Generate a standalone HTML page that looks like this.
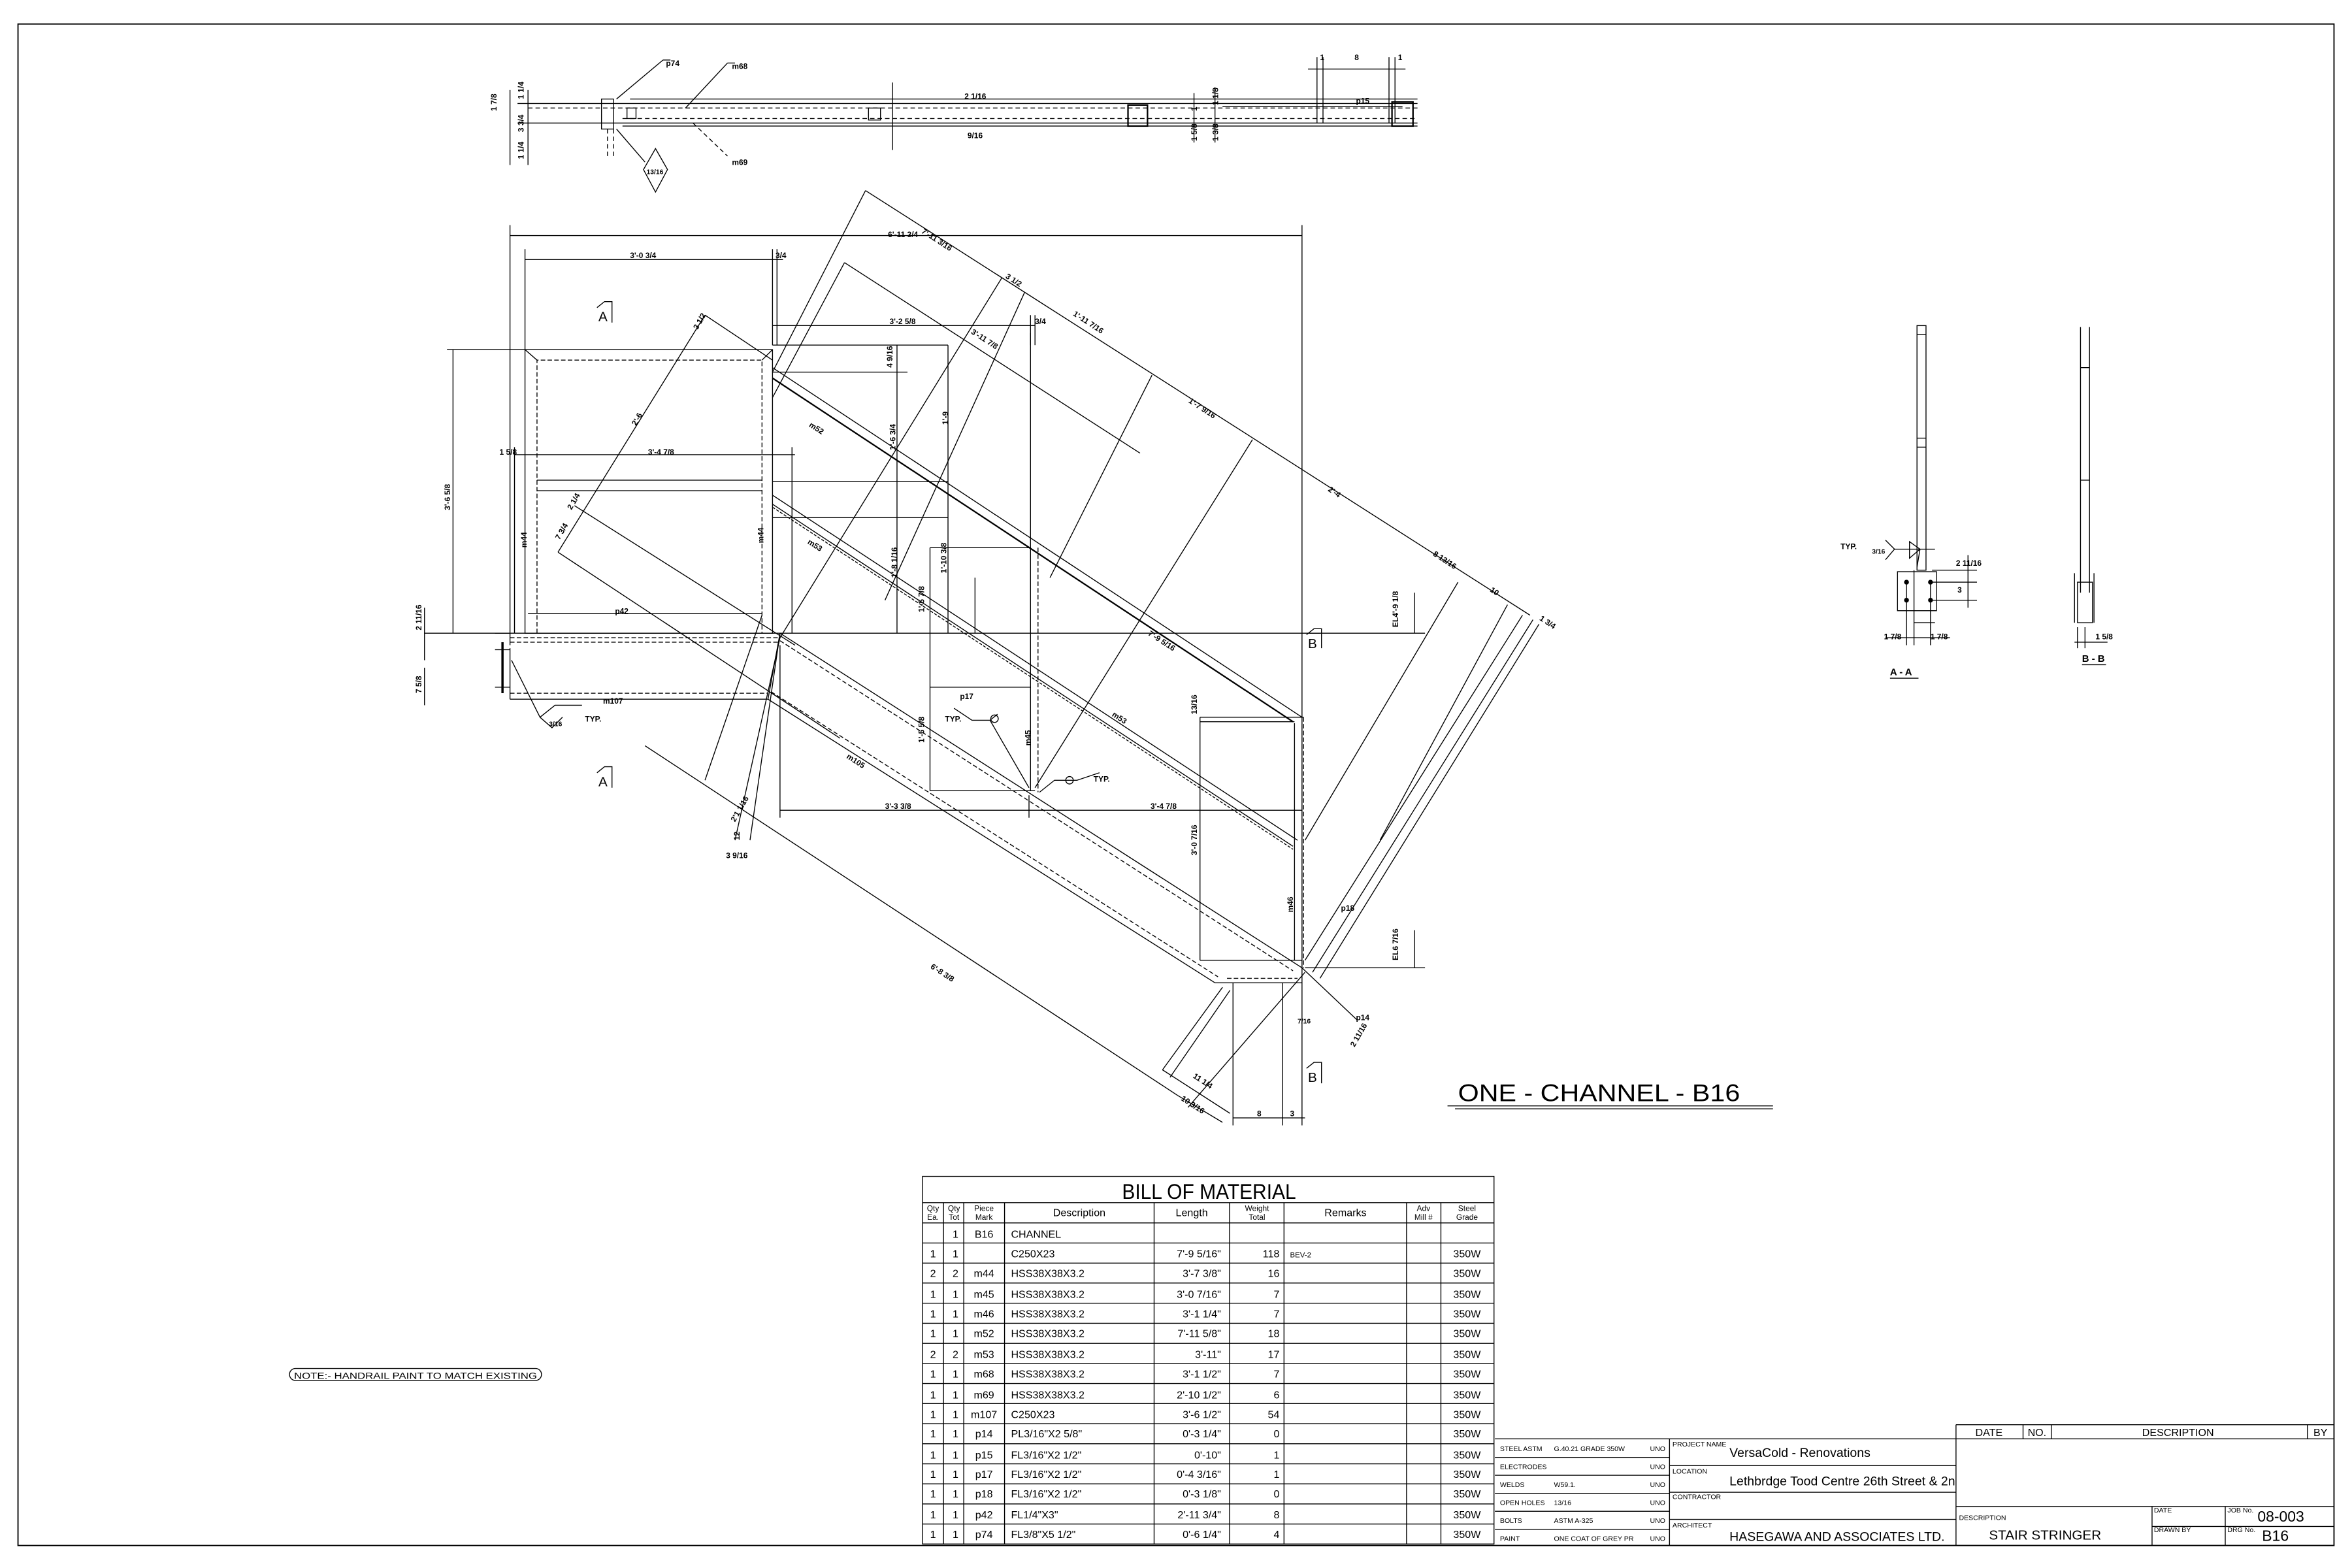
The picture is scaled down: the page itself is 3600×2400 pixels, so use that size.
<!DOCTYPE html>
<html><head><meta charset="utf-8"><style>
html,body{margin:0;padding:0;background:#fff;}
svg{display:block;}
text{font-family:"Liberation Sans Narrow","Liberation Sans",sans-serif;fill:#000;}
.lb text{font-weight:bold;}
</style></head><body>
<svg width="3600" height="2400" viewBox="0 0 1568 1045" preserveAspectRatio="none" xmlns="http://www.w3.org/2000/svg">
<rect width="1568" height="1045" fill="#fff"/>
<g fill="none" stroke="#000" stroke-width="0.6">
<rect x="12" y="16" width="1544" height="1014" stroke-width="0.8"/>

<!-- TOP PLAN VIEW -->
<line x1="420" y1="66" x2="945" y2="66"/>
<line x1="352" y1="69" x2="945" y2="69"/>
<line x1="352" y1="72" x2="945" y2="72" stroke-dasharray="3,2"/>
<line x1="415" y1="79" x2="945" y2="79" stroke-dasharray="3,2"/>
<line x1="352" y1="82" x2="945" y2="82"/>
<line x1="415" y1="84" x2="945" y2="84"/>
<rect x="401" y="66" width="8" height="20"/>
<rect x="418" y="72" width="6" height="7"/>
<rect x="579" y="72" width="8" height="8"/>
<rect x="752" y="70" width="13" height="14" stroke-width="1"/>
<rect x="928" y="68" width="14" height="16" stroke-width="1"/>
<line x1="352" y1="60" x2="352" y2="110"/>
<line x1="345" y1="69" x2="352" y2="69"/><line x1="345" y1="82" x2="352" y2="82"/>
<line x1="340" y1="60" x2="340" y2="110"/>
<line x1="405" y1="86" x2="405" y2="106" stroke-dasharray="3,2"/>
<line x1="409" y1="86" x2="409" y2="106" stroke-dasharray="3,2"/>
<line x1="411" y1="66" x2="442" y2="40"/><line x1="442" y1="40" x2="447" y2="40"/>
<line x1="457" y1="72" x2="485" y2="42"/><line x1="485" y1="42" x2="490" y2="42"/>
<line x1="462" y1="82" x2="485" y2="104" stroke-dasharray="3,2"/>
<path d="M437 99 L445 113 L437 128 L429 113 Z"/>
<line x1="411" y1="86" x2="430" y2="108"/>
<line x1="595" y1="55" x2="595" y2="100"/>
<line x1="796" y1="62" x2="796" y2="95"/><line x1="810" y1="58" x2="810" y2="95"/>
<line x1="878" y1="38" x2="878" y2="82"/><line x1="882" y1="38" x2="882" y2="82"/>
<line x1="926" y1="38" x2="926" y2="82"/><line x1="930" y1="38" x2="930" y2="82"/>
<line x1="872" y1="46" x2="937" y2="46"/>
<line x1="815" y1="71" x2="935" y2="71"/>

<!-- MAIN ELEVATION -->
<line x1="340" y1="157" x2="868" y2="157"/>
<line x1="340" y1="150" x2="340" y2="430"/>
<line x1="868" y1="150" x2="868" y2="750"/>
<line x1="350" y1="173" x2="522" y2="173"/>
<line x1="350" y1="166" x2="350" y2="233"/>
<line x1="515" y1="166" x2="515" y2="230"/>
<line x1="518" y1="166" x2="518" y2="230"/>
<line x1="515" y1="217" x2="690" y2="217"/>
<line x1="687" y1="210" x2="687" y2="230"/><line x1="690" y1="210" x2="690" y2="230"/>
<line x1="302" y1="233" x2="302" y2="422"/>
<line x1="298" y1="233" x2="350" y2="233"/>
<line x1="283" y1="422" x2="340" y2="422"/>
<line x1="283" y1="405" x2="283" y2="440"/>
<line x1="283" y1="445" x2="283" y2="470"/>
<line x1="343" y1="303" x2="530" y2="303"/>
<line x1="343" y1="298" x2="343" y2="422"/>
<line x1="528" y1="298" x2="528" y2="422"/>
<rect x="350" y="233" width="165" height="189"/>
<polyline points="358,422 358,240 508,240 508,422" stroke-dasharray="3,1.5"/>
<line x1="350" y1="233" x2="358" y2="240"/><line x1="515" y1="233" x2="508" y2="240"/>
<line x1="358" y1="320" x2="508" y2="320"/>
<line x1="358" y1="327" x2="508" y2="327"/>
<line x1="352" y1="409" x2="508" y2="409"/>
<line x1="330" y1="422" x2="880" y2="422"/>
<line x1="340" y1="425" x2="520" y2="425" stroke-dasharray="3,1.5"/>
<line x1="340" y1="428" x2="520" y2="428" stroke-dasharray="3,1.5"/>
<line x1="340" y1="432" x2="340" y2="466"/>
<line x1="340" y1="462" x2="512" y2="462" stroke-dasharray="3,1.5"/>
<line x1="340" y1="466" x2="512" y2="466"/>
<line x1="330" y1="433" x2="340" y2="433"/><line x1="330" y1="458" x2="340" y2="458"/>
<line x1="335" y1="428" x2="335" y2="462" stroke-width="1.5"/>
<line x1="341" y1="440" x2="360" y2="478"/>
<line x1="520" y1="422" x2="868" y2="645"/>
<line x1="520" y1="427" x2="862" y2="647" stroke-dasharray="3,1.5"/>
<line x1="512" y1="466" x2="810" y2="655"/>
<line x1="514" y1="461" x2="812" y2="651" stroke-dasharray="3,1.5"/>
<line x1="810" y1="655" x2="868" y2="655"/>
<line x1="818" y1="652" x2="865" y2="652" stroke-dasharray="3,1.5"/>
<line x1="520" y1="422" x2="500" y2="560"/>
<line x1="520" y1="422" x2="512" y2="466"/>
<line x1="515" y1="245" x2="868" y2="478"/>
<line x1="515" y1="252" x2="862" y2="481" stroke-width="1"/>
<line x1="515" y1="330" x2="865" y2="560"/>
<line x1="515" y1="336" x2="862" y2="564"/>
<line x1="515" y1="338" x2="862" y2="566" stroke-dasharray="2,1"/>
<line x1="687" y1="222" x2="687" y2="527"/>
<line x1="692" y1="365" x2="692" y2="528" stroke-dasharray="3,1.5"/>
<line x1="863" y1="482" x2="863" y2="640"/>
<line x1="869" y1="478" x2="869" y2="645" stroke-dasharray="3,1.5"/>
<line x1="800" y1="478" x2="869" y2="478"/>
<line x1="800" y1="481" x2="863" y2="481"/>
<line x1="800" y1="640" x2="868" y2="640"/>
<line x1="515" y1="248" x2="605" y2="248"/>
<line x1="598" y1="230" x2="598" y2="422"/>
<line x1="632" y1="230" x2="632" y2="422"/>
<line x1="515" y1="230" x2="632" y2="230"/>
<line x1="515" y1="345" x2="632" y2="345"/>
<line x1="515" y1="321" x2="632" y2="321"/>
<line x1="620" y1="365" x2="687" y2="365"/>
<line x1="620" y1="365" x2="620" y2="527"/>
<line x1="620" y1="527" x2="690" y2="527"/>
<line x1="650" y1="385" x2="650" y2="422"/>
<line x1="620" y1="458" x2="687" y2="458"/>
<line x1="800" y1="478" x2="800" y2="640"/>
<line x1="520" y1="540" x2="868" y2="540"/>
<line x1="520" y1="430" x2="520" y2="545"/>
<line x1="686" y1="530" x2="686" y2="545"/>
<line x1="822" y1="655" x2="822" y2="750"/>
<line x1="855" y1="655" x2="855" y2="750"/>
<line x1="822" y1="745" x2="870" y2="745"/>
<line x1="873" y1="422" x2="950" y2="422"/>
<line x1="943" y1="395" x2="943" y2="422"/>
<line x1="870" y1="645" x2="950" y2="645"/>
<line x1="943" y1="620" x2="943" y2="645"/>
<line x1="577" y1="127" x2="1020" y2="410"/>
<line x1="563" y1="175" x2="760" y2="302"/>
<line x1="470" y1="210" x2="515" y2="240"/>
<line x1="577" y1="127" x2="515" y2="248"/>
<line x1="563" y1="175" x2="515" y2="265"/>
<line x1="668" y1="185" x2="520" y2="425"/>
<line x1="683" y1="195" x2="590" y2="400"/>
<line x1="768" y1="250" x2="700" y2="385"/>
<line x1="835" y1="293" x2="690" y2="525"/>
<line x1="972" y1="388" x2="870" y2="560"/>
<line x1="1005" y1="403" x2="920" y2="560"/>
<line x1="1015" y1="410" x2="870" y2="640"/>
<line x1="1022" y1="413" x2="875" y2="648"/>
<line x1="1026" y1="416" x2="880" y2="652"/>
<line x1="870" y1="648" x2="792" y2="738"/>
<line x1="815" y1="658" x2="775" y2="713"/>
<line x1="820" y1="660" x2="780" y2="718"/>
<line x1="470" y1="210" x2="372" y2="368"/>
<line x1="372" y1="368" x2="560" y2="492"/>
<line x1="383" y1="337" x2="530" y2="430"/>
<line x1="430" y1="497" x2="785" y2="730"/>
<line x1="520" y1="425" x2="490" y2="560"/>
<line x1="508" y1="410" x2="470" y2="520"/>
<line x1="775" y1="713" x2="820" y2="742"/>
<line x1="785" y1="730" x2="815" y2="748"/>
<line x1="868" y1="645" x2="905" y2="680"/>
<polyline points="636,472 648,480 660,480 665,476"/>
<line x1="660" y1="480" x2="686" y2="525"/>
<circle cx="663" cy="479" r="2.5"/>
<polyline points="733,515 718,520 703,520 693,528"/>
<circle cx="713" cy="520" r="2.5"/>
<polyline points="360,478 370,470 388,470"/>
<path d="M360 478 L368 485 L375 478"/>
<polyline points="398,205 403,201 408,201 408,215"/>
<polyline points="398,515 403,511 408,511 408,525"/>
<polyline points="871,423 876,419 881,419 881,432"/>
<polyline points="871,712 876,708 881,708 881,722"/>
<line x1="965" y1="737" x2="1182" y2="737"/>
<line x1="970" y1="739" x2="1182" y2="739"/>
<rect x="193" y="912" width="168" height="8" rx="4"/>

<!-- SECTION A-A -->
<rect x="1278" y="217" width="6" height="163"/>
<line x1="1278" y1="223" x2="1284" y2="223"/>
<line x1="1278" y1="292" x2="1284" y2="292"/><line x1="1278" y1="298" x2="1284" y2="298"/>
<rect x="1265" y="381" width="26" height="26"/>
<polyline points="1276,380 1276,415 1290,415"/>
<line x1="1288" y1="380" x2="1318" y2="380"/>
<line x1="1288" y1="388" x2="1318" y2="388"/>
<line x1="1288" y1="400" x2="1318" y2="400"/>
<line x1="1312" y1="370" x2="1312" y2="405"/>
<line x1="1271" y1="388" x2="1271" y2="430"/>
<line x1="1276" y1="415" x2="1276" y2="430"/>
<line x1="1287" y1="388" x2="1287" y2="430"/>
<line x1="1257" y1="425" x2="1300" y2="425"/>
<polyline points="1257,360 1263,366 1257,373"/>
<line x1="1263" y1="366" x2="1290" y2="366"/>
<path d="M1273 361 L1280 366 L1273 372 Z"/>
<line x1="1280" y1="366" x2="1278" y2="378"/>
<line x1="1260" y1="452" x2="1279" y2="452"/>
<!-- SECTION B-B -->
<line x1="1387" y1="218" x2="1387" y2="395"/>
<line x1="1393" y1="218" x2="1393" y2="395"/>
<line x1="1387" y1="245" x2="1393" y2="245"/>
<line x1="1387" y1="320" x2="1393" y2="320"/>
<rect x="1385" y="388" width="10" height="27"/>
<line x1="1383" y1="382" x2="1383" y2="415"/>
<line x1="1396" y1="382" x2="1396" y2="415"/>
<line x1="1385" y1="418" x2="1385" y2="432"/><line x1="1390" y1="418" x2="1390" y2="432"/>
<line x1="1383" y1="428" x2="1405" y2="428"/>
<line x1="1388" y1="443" x2="1404" y2="443"/>

<!-- BOM -->
<rect x="615" y="784" width="381" height="245"/>
<line x1="615" y1="801.5" x2="996" y2="801.5"/>
<line x1="615" y1="815" x2="996" y2="815"/>
<line x1="629" y1="801.5" x2="629" y2="1029"/>
<line x1="642.5" y1="801.5" x2="642.5" y2="1029"/>
<line x1="669.7" y1="801.5" x2="669.7" y2="1029"/>
<line x1="769.4" y1="801.5" x2="769.4" y2="1029"/>
<line x1="819.7" y1="801.5" x2="819.7" y2="1029"/>
<line x1="856" y1="801.5" x2="856" y2="1029"/>
<line x1="937.7" y1="801.5" x2="937.7" y2="1029"/>
<line x1="960.6" y1="801.5" x2="960.6" y2="1029"/>
<line x1="615" y1="828.4" x2="996" y2="828.4"/>
<line x1="615" y1="841.8" x2="996" y2="841.8"/>
<line x1="615" y1="855.1" x2="996" y2="855.1"/>
<line x1="615" y1="868.5" x2="996" y2="868.5"/>
<line x1="615" y1="881.9" x2="996" y2="881.9"/>
<line x1="615" y1="895.3" x2="996" y2="895.3"/>
<line x1="615" y1="908.7" x2="996" y2="908.7"/>
<line x1="615" y1="922" x2="996" y2="922"/>
<line x1="615" y1="935.4" x2="996" y2="935.4"/>
<line x1="615" y1="948.8" x2="996" y2="948.8"/>
<line x1="615" y1="962.2" x2="996" y2="962.2"/>
<line x1="615" y1="975.6" x2="996" y2="975.6"/>
<line x1="615" y1="988.9" x2="996" y2="988.9"/>
<line x1="615" y1="1002.3" x2="996" y2="1002.3"/>
<line x1="615" y1="1015.7" x2="996" y2="1015.7"/>

<!-- TITLE BLOCK -->
<line x1="1304" y1="949.5" x2="1556" y2="949.5"/>
<line x1="996.6" y1="958.9" x2="1556" y2="958.9"/>
<line x1="996.6" y1="1030" x2="1556" y2="1030"/>
<line x1="1113" y1="958.9" x2="1113" y2="1030"/>
<line x1="1304" y1="949.5" x2="1304" y2="1030"/>
<line x1="1348.7" y1="949.5" x2="1348.7" y2="958.9"/>
<line x1="1367.5" y1="949.5" x2="1367.5" y2="958.9"/>
<line x1="1538.3" y1="949.5" x2="1538.3" y2="958.9"/>
<line x1="996.6" y1="971.3" x2="1113" y2="971.3"/>
<line x1="996.6" y1="983.2" x2="1113" y2="983.2"/>
<line x1="996.6" y1="995.2" x2="1113" y2="995.2"/>
<line x1="996.6" y1="1007.2" x2="1113" y2="1007.2"/>
<line x1="996.6" y1="1019.2" x2="1113" y2="1019.2"/>
<line x1="1113" y1="976.8" x2="1304" y2="976.8"/>
<line x1="1113" y1="994.5" x2="1304" y2="994.5"/>
<line x1="1113" y1="1012.6" x2="1304" y2="1012.6"/>
<line x1="1304" y1="1004" x2="1556" y2="1004"/>
<line x1="1434.7" y1="1017.3" x2="1556" y2="1017.3"/>
<line x1="1434.7" y1="1004" x2="1434.7" y2="1030"/>
<line x1="1483.5" y1="1004" x2="1483.5" y2="1030"/>
</g>

<g fill="#000"><circle cx="1271" cy="388" r="1.6"/><circle cx="1287" cy="388" r="1.6"/><circle cx="1271" cy="400" r="1.6"/><circle cx="1287" cy="400" r="1.6"/></g>

<g font-size="5.2" class="lb">
<text x="444" y="44">p74</text><text x="488" y="46">m68</text><text x="488" y="110">m69</text>
<text x="431" y="116" font-size="4.5">13/16</text>
<text x="643" y="66">2 1/16</text><text x="645" y="92">9/16</text>
<text x="904" y="69">p15</text><text x="903" y="40">8</text><text x="880" y="40">1</text><text x="932" y="40">1</text>
<text x="331" y="74" transform="rotate(-90 331 74)">1 7/8</text>
<text x="349" y="66" transform="rotate(-90 349 66)">1 1/4</text>
<text x="349" y="106" transform="rotate(-90 349 106)">1 1/4</text>
<text x="349" y="88" transform="rotate(-90 349 88)">3 3/4</text>
<text x="798" y="74" transform="rotate(-90 798 74)">1</text>
<text x="798" y="94" transform="rotate(-90 798 94)">1 5/8</text>
<text x="812" y="70" transform="rotate(-90 812 70)">1 1/8</text>
<text x="812" y="94" transform="rotate(-90 812 94)">1 3/8</text>
<text x="592" y="158">6'-11 3/4</text>
<text x="614" y="155" transform="rotate(33 614 155)">7'-11 3/16</text>
<text x="420" y="172">3'-0 3/4</text><text x="517" y="172">3/4</text>
<text x="593" y="216">3'-2 5/8</text><text x="690" y="216">3/4</text>
<text x="432" y="303">3'-4 7/8</text><text x="333" y="303">1 5/8</text>
<text x="300" y="340" transform="rotate(-90 300 340)">3'-6 5/8</text>
<text x="281" y="420" transform="rotate(-90 281 420)">2 11/16</text>
<text x="281" y="462" transform="rotate(-90 281 462)">7 5/8</text>
<text x="351" y="365" transform="rotate(-90 351 365)">m44</text>
<text x="509" y="362" transform="rotate(-90 509 362)">m44</text>
<text x="410" y="409">p42</text>
<text x="402" y="469">m107</text>
<text x="390" y="481">TYP.</text><text x="366" y="484" font-size="4.5">3/16</text>
<text x="424" y="284" transform="rotate(-60 424 284)">2'-6</text>
<text x="465" y="220" transform="rotate(-60 465 220)">3 1/2</text>
<text x="373" y="360" transform="rotate(-60 373 360)">7 3/4</text>
<text x="381" y="340" transform="rotate(-60 381 340)">2 1/4</text>
<text x="539" y="284" transform="rotate(33 539 284)">m52</text>
<text x="538" y="362" transform="rotate(33 538 362)">m53</text>
<text x="741" y="477" transform="rotate(33 741 477)">m53</text>
<text x="564" y="505" transform="rotate(33 564 505)">m105</text>
<text x="620" y="645" transform="rotate(33 620 645)">6'-8 3/8</text>
<text x="765" y="423" transform="rotate(33 765 423)">7'-9 5/16</text>
<text x="647" y="222" transform="rotate(33 647 222)">3'-11 7/8</text>
<text x="670" y="185" transform="rotate(33 670 185)">3 1/2</text>
<text x="715" y="210" transform="rotate(33 715 210)">1'-11 7/16</text>
<text x="792" y="268" transform="rotate(33 792 268)">1'-7 9/16</text>
<text x="885" y="327" transform="rotate(33 885 327)">2'-4</text>
<text x="955" y="370" transform="rotate(33 955 370)">8 13/16</text>
<text x="993" y="394" transform="rotate(33 993 394)">10</text>
<text x="1026" y="413" transform="rotate(33 1026 413)">1 3/4</text>
<text x="595" y="245" transform="rotate(-90 595 245)">4 9/16</text>
<text x="597" y="300" transform="rotate(-90 597 300)">1'-6 3/4</text>
<text x="632" y="283" transform="rotate(-90 632 283)">1'-9</text>
<text x="598" y="385" transform="rotate(-90 598 385)">1'-8 1/16</text>
<text x="631" y="382" transform="rotate(-90 631 382)">1'-10 3/8</text>
<text x="616" y="408" transform="rotate(-90 616 408)">1'-5 7/8</text>
<text x="616" y="495" transform="rotate(-90 616 495)">1'-5 5/8</text>
<text x="687" y="497" transform="rotate(-90 687 497)">m45</text>
<text x="640" y="466">p17</text><text x="630" y="481">TYP.</text><text x="729" y="521">TYP.</text>
<text x="590" y="539">3'-3 3/8</text><text x="767" y="539">3'-4 7/8</text>
<text x="490" y="548" transform="rotate(-60 490 548)">2'1 1/16</text>
<text x="493" y="560" transform="rotate(-90 493 560)">12</text>
<text x="484" y="572">3 9/16</text>
<text x="798" y="570" transform="rotate(-90 798 570)">3'-0 7/16</text>
<text x="798" y="476" transform="rotate(-90 798 476)">13/16</text>
<text x="862" y="608" transform="rotate(-90 862 608)">m46</text>
<text x="894" y="607">p18</text>
<text x="904" y="680">p14</text>
<text x="932" y="418" transform="rotate(-90 932 418)">EL4'-9 1/8</text>
<text x="932" y="640" transform="rotate(-90 932 640)">EL6 7/16</text>
<text x="903" y="698" transform="rotate(-60 903 698)">2 11/16</text>
<text x="795" y="718" transform="rotate(33 795 718)">11 1/4</text>
<text x="787" y="733" transform="rotate(33 787 733)">10 3/16</text>
<text x="838" y="744">8</text><text x="860" y="744">3</text>
<text x="865" y="682" font-size="4.5">7/16</text>
<text x="1227" y="366">TYP.</text><text x="1248" y="369" font-size="4.5">3/16</text>
<text x="1304" y="377">2 11/16</text><text x="1305" y="395">3</text>
<text x="1256" y="426">1 7/8</text><text x="1287" y="426">1 7/8</text>
<text x="1397" y="426">1 5/8</text>
</g>
<g font-size="6.5" font-weight="bold">
<text x="1260" y="450">A - A</text>
<text x="1388" y="441">B - B</text>
</g>
<g font-size="9">
<text x="399" y="214">A</text><text x="399" y="524">A</text>
<text x="872" y="432">B</text><text x="872" y="721">B</text>
</g>
<text x="972" y="734" font-size="16" textLength="188" lengthAdjust="spacingAndGlyphs">ONE - CHANNEL - B16</text>
<text x="196" y="919" font-size="6" textLength="162" lengthAdjust="spacingAndGlyphs">NOTE:- HANDRAIL PAINT TO MATCH EXISTING</text>

<text x="806" y="799" font-size="14" text-anchor="middle" textLength="116" lengthAdjust="spacingAndGlyphs">BILL OF MATERIAL</text>
<g font-size="5.2" text-anchor="middle">
<text x="622" y="807">Qty</text><text x="622" y="813">Ea.</text>
<text x="636" y="807">Qty</text><text x="636" y="813">Tot</text>
<text x="656" y="807">Piece</text><text x="656" y="813">Mark</text>
<text x="719.5" y="810.5" font-size="7">Description</text>
<text x="794.5" y="810.5" font-size="7">Length</text>
<text x="838" y="807">Weight</text><text x="838" y="813">Total</text>
<text x="897" y="810.5" font-size="7">Remarks</text>
<text x="949" y="807">Adv</text><text x="949" y="813">Mill #</text>
<text x="978" y="807">Steel</text><text x="978" y="813">Grade</text>
</g>
<g font-size="7">
<g text-anchor="middle">
<text x="622" y="838">1</text><text x="622" y="851">2</text><text x="622" y="865">1</text><text x="622" y="878">1</text><text x="622" y="891">1</text><text x="622" y="905">2</text><text x="622" y="918">1</text><text x="622" y="932">1</text><text x="622" y="945">1</text><text x="622" y="958">1</text><text x="622" y="972">1</text><text x="622" y="985">1</text><text x="622" y="998">1</text><text x="622" y="1012">1</text><text x="622" y="1025">1</text>
<text x="637" y="825">1</text><text x="637" y="838">1</text><text x="637" y="851">2</text><text x="637" y="865">1</text><text x="637" y="878">1</text><text x="637" y="891">1</text><text x="637" y="905">2</text><text x="637" y="918">1</text><text x="637" y="932">1</text><text x="637" y="945">1</text><text x="637" y="958">1</text><text x="637" y="972">1</text><text x="637" y="985">1</text><text x="637" y="998">1</text><text x="637" y="1012">1</text><text x="637" y="1025">1</text>
<text x="656" y="825">B16</text><text x="656" y="851">m44</text><text x="656" y="865">m45</text><text x="656" y="878">m46</text><text x="656" y="891">m52</text><text x="656" y="905">m53</text><text x="656" y="918">m68</text><text x="656" y="932">m69</text><text x="656" y="945">m107</text><text x="656" y="958">p14</text><text x="656" y="972">p15</text><text x="656" y="985">p17</text><text x="656" y="998">p18</text><text x="656" y="1012">p42</text><text x="656" y="1025">p74</text>
<text x="978" y="838">350W</text><text x="978" y="851">350W</text><text x="978" y="865">350W</text><text x="978" y="878">350W</text><text x="978" y="891">350W</text><text x="978" y="905">350W</text><text x="978" y="918">350W</text><text x="978" y="932">350W</text><text x="978" y="945">350W</text><text x="978" y="958">350W</text><text x="978" y="972">350W</text><text x="978" y="985">350W</text><text x="978" y="998">350W</text><text x="978" y="1012">350W</text><text x="978" y="1025">350W</text>
</g>
<g>
<text x="674" y="825">CHANNEL</text><text x="674" y="838">C250X23</text><text x="674" y="851">HSS38X38X3.2</text><text x="674" y="865">HSS38X38X3.2</text><text x="674" y="878">HSS38X38X3.2</text><text x="674" y="891">HSS38X38X3.2</text><text x="674" y="905">HSS38X38X3.2</text><text x="674" y="918">HSS38X38X3.2</text><text x="674" y="932">HSS38X38X3.2</text><text x="674" y="945">C250X23</text><text x="674" y="958">PL3/16"X2 5/8"</text><text x="674" y="972">FL3/16"X2 1/2"</text><text x="674" y="985">FL3/16"X2 1/2"</text><text x="674" y="998">FL3/16"X2 1/2"</text><text x="674" y="1012">FL1/4"X3"</text><text x="674" y="1025">FL3/8"X5 1/2"</text>
<text x="860" y="838" font-size="5">BEV-2</text>
</g>
<g text-anchor="end">
<text x="814" y="838">7'-9 5/16"</text><text x="814" y="851">3'-7 3/8"</text><text x="814" y="865">3'-0 7/16"</text><text x="814" y="878">3'-1 1/4"</text><text x="814" y="891">7'-11 5/8"</text><text x="814" y="905">3'-11"</text><text x="814" y="918">3'-1 1/2"</text><text x="814" y="932">2'-10 1/2"</text><text x="814" y="945">3'-6 1/2"</text><text x="814" y="958">0'-3 1/4"</text><text x="814" y="972">0'-10"</text><text x="814" y="985">0'-4 3/16"</text><text x="814" y="998">0'-3 1/8"</text><text x="814" y="1012">2'-11 3/4"</text><text x="814" y="1025">0'-6 1/4"</text>
<text x="853" y="838">118</text><text x="853" y="851">16</text><text x="853" y="865">7</text><text x="853" y="878">7</text><text x="853" y="891">18</text><text x="853" y="905">17</text><text x="853" y="918">7</text><text x="853" y="932">6</text><text x="853" y="945">54</text><text x="853" y="958">0</text><text x="853" y="972">1</text><text x="853" y="985">1</text><text x="853" y="998">0</text><text x="853" y="1012">8</text><text x="853" y="1025">4</text>
</g>
</g>

<g font-size="7" text-anchor="middle">
<text x="1326" y="957">DATE</text><text x="1358" y="957">NO.</text><text x="1452" y="957">DESCRIPTION</text><text x="1547" y="957">BY</text>
</g>
<g font-size="4.6">
<text x="1000" y="967">STEEL ASTM</text><text x="1036" y="967">G.40.21 GRADE 350W</text><text x="1100" y="967">UNO</text>
<text x="1000" y="979">ELECTRODES</text><text x="1100" y="979">UNO</text>
<text x="1000" y="991">WELDS</text><text x="1036" y="991">W59.1.</text><text x="1100" y="991">UNO</text>
<text x="1000" y="1003">OPEN HOLES</text><text x="1036" y="1003">13/16</text><text x="1100" y="1003">UNO</text>
<text x="1000" y="1015">BOLTS</text><text x="1036" y="1015">ASTM A-325</text><text x="1100" y="1015">UNO</text>
<text x="1000" y="1027">PAINT</text><text x="1036" y="1027">ONE COAT OF GREY PR</text><text x="1100" y="1027">UNO</text>
<text x="1115" y="964">PROJECT NAME</text>
<text x="1115" y="982">LOCATION</text>
<text x="1115" y="999">CONTRACTOR</text>
<text x="1115" y="1018">ARCHITECT</text>
<text x="1306" y="1013">DESCRIPTION</text>
<text x="1436" y="1008">DATE</text>
<text x="1485" y="1008">JOB No.</text>
<text x="1436" y="1021">DRAWN BY</text>
<text x="1485" y="1021">DRG No.</text>
</g>
<g font-size="8.5">
<text x="1153" y="971">VersaCold - Renovations</text>
<text x="1153" y="990">Lethbrdge Tood Centre 26th Street &amp; 2n</text>
<text x="1153" y="1027">HASEGAWA AND ASSOCIATES LTD.</text>
<text x="1326" y="1026" font-size="9">STAIR STRINGER</text>
<text x="1505" y="1014" font-size="10">08-003</text>
<text x="1508" y="1027" font-size="10">B16</text>
</g>
</svg>
</body></html>
